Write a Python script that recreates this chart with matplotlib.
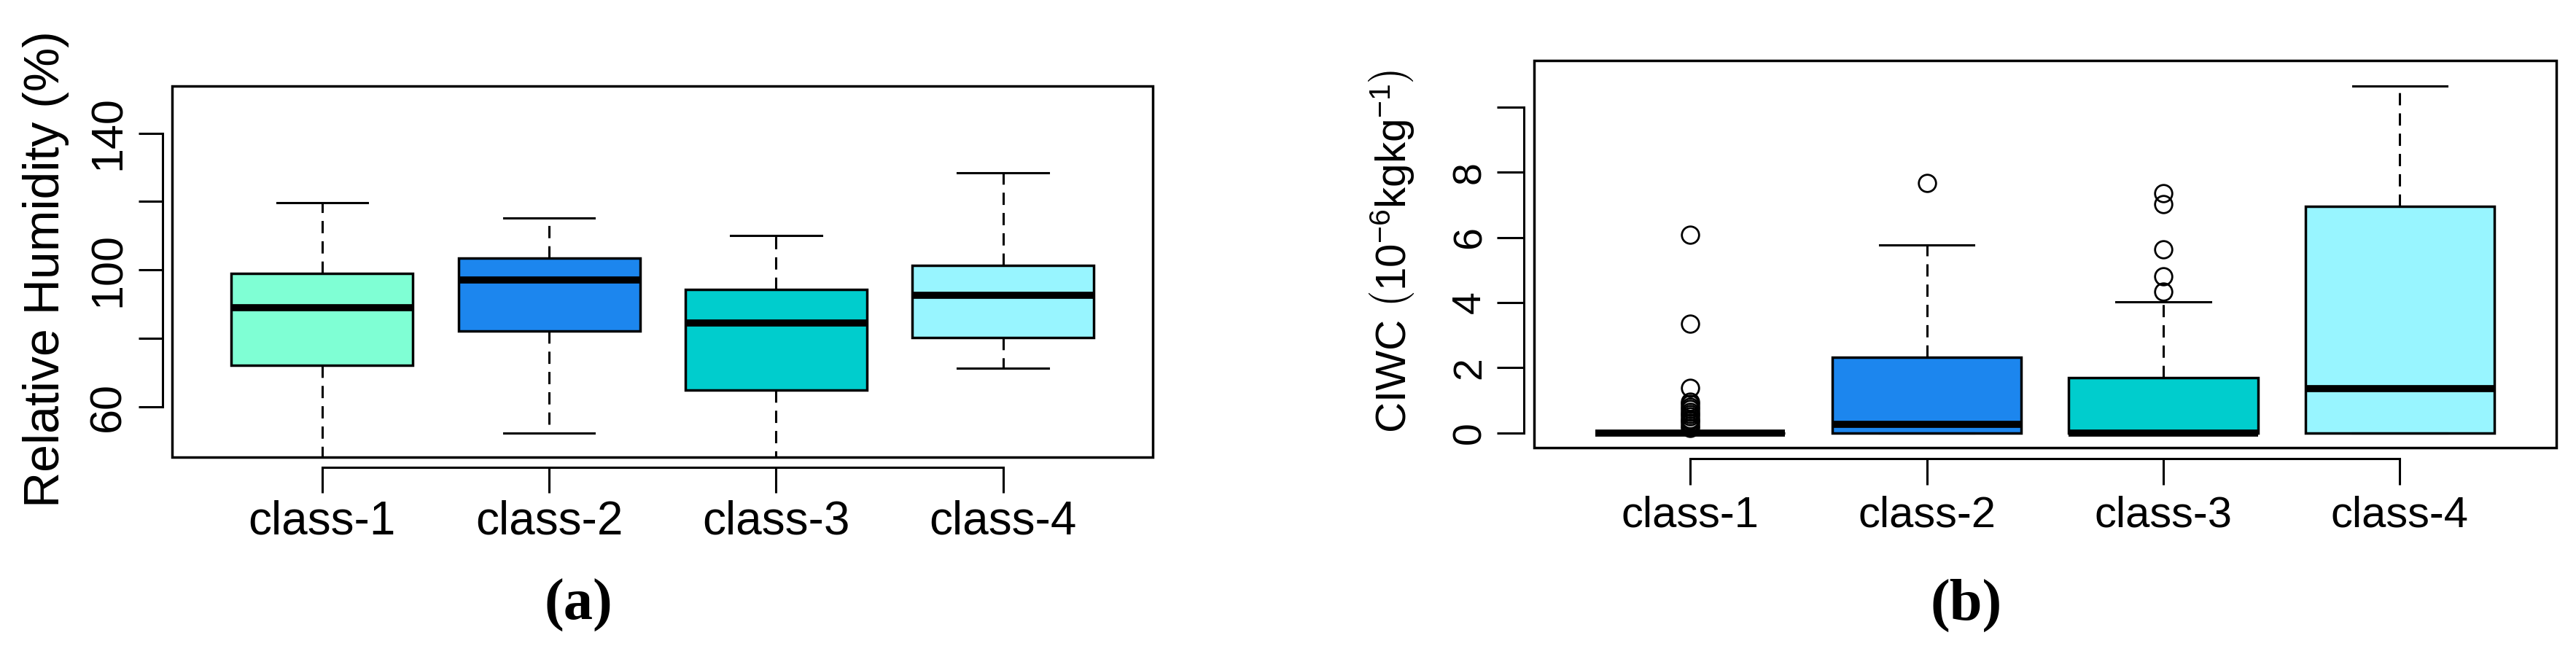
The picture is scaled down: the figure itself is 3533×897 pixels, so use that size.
import matplotlib
matplotlib.use("Agg")
import matplotlib.pyplot as plt
from matplotlib.patches import Rectangle

plt.rcParams['font.family'] = ['Liberation Sans', 'DejaVu Sans']
plt.rcParams['mathtext.fontset'] = 'custom'
plt.rcParams['mathtext.rm'] = 'Liberation Sans'
plt.rcParams['mathtext.it'] = 'Liberation Sans:italic'
plt.rcParams['mathtext.bf'] = 'Liberation Sans:bold'

# ----- Data -----
classes = ["class-1", "class-2", "class-3", "class-4"]
box_colors = ["#7FFFD4", "#1C86EE", "#00CDCD", "#98F5FF"]

# (a) relative humidity (%)
rh_whislo = [38.0, 52.5, 40.0, 71.4]
rh_q1 = [72.2, 82.3, 64.9, 80.3]
rh_med = [89.0, 97.1, 84.6, 92.7]
rh_q3 = [99.1, 103.4, 94.3, 101.3]
rh_whishi = [119.6, 115.3, 110.2, 128.5]
rh_fliers = [[], [], [], []]
rh_ticks = [60, 80, 100, 120, 140]
rh_ticklabels = ["60", "", "100", "", "140"]

# (b) CIWC (1e-6 kg/kg)
ciwc_whislo = [0.0, 0.0, 0.0, 0.0]
ciwc_q1 = [0.0, 0.0, 0.0, 0.0]
ciwc_med = [0.0, 0.27, 0.0, 1.36]
ciwc_q3 = [0.0, 2.32, 1.69, 6.96]
ciwc_whishi = [0.0, 5.77, 4.02, 10.64]
ciwc_fliers = [
    [6.07, 3.35, 1.38, 0.95, 0.88, 0.8, 0.72, 0.65, 0.57, 0.5, 0.42,
     0.37, 0.3, 0.22, 0.15],
    [7.66],
    [7.35, 7.03, 5.64, 4.8, 4.33],
    [],
]
ciwc_ticks = [0, 2, 4, 6, 8, 10]
ciwc_ticklabels = ["0", "2", "4", "6", "8", ""]


def make_stats(lo, q1, med, q3, hi, fliers):
    stats = []
    for i in range(len(classes)):
        stats.append(dict(whislo=lo[i], q1=q1[i], med=med[i], q3=q3[i],
                          whishi=hi[i], fliers=fliers[i], label=classes[i]))
    return stats


def draw_panel(ax, stats, ylim, ticks, ticklabels, ysize, xsize,
               out_y, out_x, len_y, len_x, pad_y, pad_x):
    bp = ax.bxp(stats, widths=0.8, patch_artist=True,
                boxprops=dict(linewidth=2.5, edgecolor="black"),
                whiskerprops=dict(linewidth=2.2, linestyle=(0, (5.5, 3.6))),
                capprops=dict(linewidth=2.2),
                medianprops=dict(linewidth=7, color="black",
                                 solid_capstyle="butt"),
                flierprops=dict(marker="o", markersize=17,
                                markerfacecolor="none",
                                markeredgecolor="black",
                                markeredgewidth=2))
    for patch, col in zip(bp["boxes"], box_colors):
        patch.set_facecolor(col)

    ax.set_xlim(0.34, 4.66)
    ax.set_ylim(*ylim)

    # R style: box frame plus detached axes
    ax.add_patch(Rectangle((0, 0), 1, 1, transform=ax.transAxes,
                           fill=False, lw=2.5, clip_on=False, zorder=5))
    ax.spines["top"].set_visible(False)
    ax.spines["right"].set_visible(False)
    ax.spines["left"].set_position(("outward", out_y))
    ax.spines["bottom"].set_position(("outward", out_x))
    ax.spines["left"].set_bounds(ticks[0], ticks[-1])
    ax.spines["bottom"].set_bounds(1, 4)
    ax.spines["left"].set_linewidth(2.2)
    ax.spines["bottom"].set_linewidth(2.2)

    ax.set_yticks(ticks, ticklabels, rotation=90, va="center")
    ax.set_xticks(range(1, 5), classes)
    ax.tick_params(axis="y", length=len_y, width=2.2, labelsize=ysize,
                   pad=pad_y)
    ax.tick_params(axis="x", length=len_x, width=2.2, labelsize=xsize,
                   pad=pad_x)


fig = plt.figure(figsize=(35.33, 8.97), dpi=100)

ax_a = fig.add_axes([0.06694, 0.30056, 0.38055, 0.56823])
draw_panel(ax_a, make_stats(rh_whislo, rh_q1, rh_med, rh_q3, rh_whishi,
                            rh_fliers),
           (45.3, 153.8), rh_ticks, rh_ticklabels, 44, 46,
           10, 10, 24, 25, 8.5, 7)

ax_b = fig.add_axes([0.59553, 0.31527, 0.39672, 0.59275])
draw_panel(ax_b, make_stats(ciwc_whislo, ciwc_q1, ciwc_med, ciwc_q3,
                            ciwc_whishi, ciwc_fliers),
           (-0.46, 11.44), ciwc_ticks, ciwc_ticklabels, 40, 43,
           10, 11, 26.5, 26, 8, 10)

# axis titles
fig.text(63 / 3533, 1 - 369 / 897, "Relative Humidity (%)", rotation=90,
         ha="center", va="center", fontsize=49)
fig.text(1909 / 3533, 1 - 345 / 897,
         r"CIWC $\left(10^{-6}\mathrm{kgkg}^{-1}\right)$", rotation=90,
         ha="center", va="center", fontsize=42)

# panel letters
fig.text(793 / 3533, 1 - 830 / 897, "(a)", ha="center", va="center",
         fontsize=58, fontweight="bold", family="Liberation Serif")
fig.text(2697 / 3533, 1 - 830 / 897, "(b)", ha="center", va="center",
         fontsize=58, fontweight="bold", family="Liberation Serif")

fig.savefig("out.png", dpi=100)
